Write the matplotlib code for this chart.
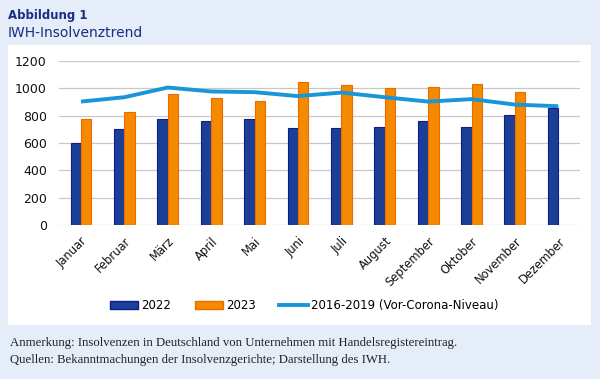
import matplotlib
matplotlib.use("Agg")
import matplotlib.pyplot as plt
from matplotlib.patches import Rectangle, Patch
from matplotlib.lines import Line2D
import numpy as np

months = ["Januar", "Februar", "März", "April", "Mai", "Juni", "Juli",
          "August", "September", "Oktober", "November", "Dezember"]
y2022 = [598, 701, 774, 762, 776, 708, 708, 716, 760, 720, 803, 857]
y2023 = [776, 828, 957, 930, 908, 1047, 1023, 1001, 1011, 1033, 974, None]
pre_corona = [903, 935, 1006, 977, 972, 943, 969, 935, 903, 921, 881, 869]
yticks = [0, 200, 400, 600, 800, 1000, 1200]

bg = "#e5edf8"
c22 = "#1b3f96"
c22e = "#0d1f86"
c23 = "#f48a00"
c23e = "#ee6a00"
cline = "#1a96d8"
navy = "#1a2c86"

fig = plt.figure(figsize=(6, 3.79), dpi=100)
fig.patch.set_facecolor(bg)

panel = Rectangle((8/600, 1-325/379), 583/600, 280/379, transform=fig.transFigure,
                  facecolor="white", edgecolor="none", zorder=-5)
fig.patches.append(panel)

fig.text(8/600, 1-16/379, "Abbildung 1", fontsize=8.5, fontweight="bold", color=navy,
         va="center", ha="left")
fig.text(8/600, 1-33/379, "IWH-Insolvenztrend", fontsize=10, color=navy,
         va="center", ha="left")

ax = fig.add_axes([59.3/600, 1-225/379, 520.7/600, 164/379])
ax.set_zorder(2)
ax.set_facecolor("none")
x = np.arange(len(months))
w = 0.24
ax.bar(x - w/2, y2022, width=w, color=c22, edgecolor=c22e, linewidth=0.8, zorder=2, label="2022")
v23 = [v if v is not None else np.nan for v in y2023]
ax.bar(x + w/2, v23, width=w, color=c23, edgecolor=c23e, linewidth=0.8, zorder=2, label="2023")
ax.plot(x, pre_corona, color=cline, linewidth=2.8, zorder=3, solid_capstyle="butt")

ax.set_xlim(-0.5, len(months) - 0.5)
ax.set_ylim(0, 1200)
ax.set_yticks(yticks)
ax.yaxis.grid(True, color="#c8c8c8", linewidth=0.9)
ax.set_axisbelow(True)
for s in ax.spines.values():
    s.set_visible(False)
ax.tick_params(axis="both", length=0, labelsize=9, colors="#111111")
ax.tick_params(axis="y", pad=9)
ax.set_xticks(x)
ax.set_xticklabels(months, rotation=45, ha="right", va="top", rotation_mode="anchor")
ax.tick_params(axis="x", pad=7, labelsize=8.3)

handles = [Patch(facecolor=c22, edgecolor=c22e, label="2022"),
           Patch(facecolor=c23, edgecolor=c23e, label="2023"),
           Line2D([], [], color=cline, linewidth=2.8, label="2016-2019 (Vor-Corona-Niveau)")]
fig.legend(handles=handles, loc="center", bbox_to_anchor=(304/600, 1-305.7/379), ncol=3,
           frameon=False, fontsize=8.5, handlelength=2.4, handleheight=0.55,
           handletextpad=0.25, columnspacing=2.0)

fig.text(10/600, 1-342.6/379,
         "Anmerkung: Insolvenzen in Deutschland von Unternehmen mit Handelsregistereintrag.",
         fontsize=9.2, family="Liberation Serif", color="#222222", va="center", ha="left")
fig.text(10/600, 1-360.4/379,
         "Quellen: Bekanntmachungen der Insolvenzgerichte; Darstellung des IWH.",
         fontsize=9.2, family="Liberation Serif", color="#222222", va="center", ha="left")

fig.savefig("out.png", dpi=100, facecolor=bg)
